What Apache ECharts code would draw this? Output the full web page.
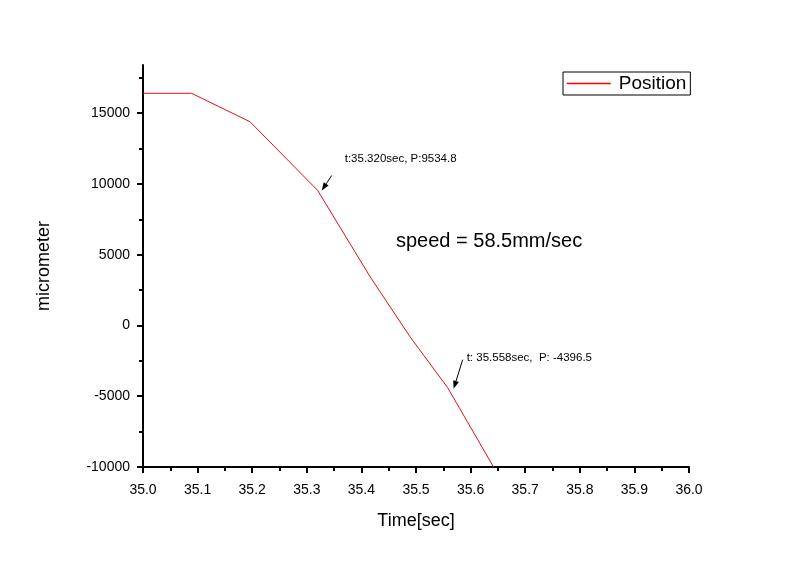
<!DOCTYPE html>
<html>
<head>
<meta charset="utf-8">
<script src="https://cdn.jsdelivr.net/npm/echarts@6/dist/echarts.min.js"></script>
<style>html,body{margin:0;padding:0;background:#fff;}#c{width:800px;height:562px;}</style>
</head>
<body>
<div id="c"></div>
<script>
// ---- data ----
const timeSec = [35.0, 35.089, 35.196, 35.32, 35.416, 35.489, 35.558, 35.642];
const positionUm = [16400, 16400, 14390, 9534.8, 3440, -800, -4396.5, -10000];
const annotTime = [35.320, 35.558];
const annotPos = [9534.8, -4396.5];
const annotText = ['t:35.320sec, P:9534.8', 't: 35.558sec,  P: -4396.5'];
const yMajorTicks = [-10000, -5000, 0, 5000, 10000, 15000];
const yMinorTicks = [-7500, -2500, 2500, 7500, 12500, 17500];
const seriesName = 'Position';
const speedText = 'speed = 58.5mm/sec';

const FONT = '"Liberation Sans", Arial, sans-serif';
const RED = '#e0101a';
const chart = echarts.init(document.getElementById('c'), null, {renderer: 'canvas'});

// per-annotation arrow/text offsets (px)
const annotLayout = [
  {tail: [14, -15], head: [4, 0], text: [27, -32]},
  {tail: [15, -28], head: [6, 1], text: [19, -30]}
];

function arrow(x1, y1, x2, y2) {
  const ang = Math.atan2(y2 - y1, x2 - x1);
  const L = 8, W = 3;
  const bx = x2 - L * Math.cos(ang), by = y2 - L * Math.sin(ang);
  const nx = -Math.sin(ang) * W, ny = Math.cos(ang) * W;
  return [
    {type: 'line', shape: {x1: x1, y1: y1, x2: bx, y2: by}, style: {stroke: '#000', lineWidth: 1}},
    {type: 'polygon', shape: {points: [[x2, y2], [bx + nx, by + ny], [bx - nx, by - ny]]}, style: {fill: '#000'}}
  ];
}

const option = {
  backgroundColor: '#fff',
  animation: false,
  grid: {left: 143, right: 111, top: 65, bottom: 95, containLabel: false},
  legend: {
    show: true,
    data: [seriesName],
    left: 563, top: 72,
    orient: 'horizontal',
    borderColor: '#000', borderWidth: 1, borderRadius: 0,
    padding: [2, 4, 2, 3],
    itemWidth: 44, itemHeight: 14, itemGap: 5,
    itemStyle: {opacity: 0},
    lineStyle: {color: '#ff0000', width: 1.5, opacity: 1},
    textStyle: {fontFamily: FONT, fontSize: 19, color: '#000', padding: [0, 0, 0, 3]},
    backgroundColor: '#fff'
  },
  xAxis: {
    type: 'value',
    min: 35.0, max: 36.0, interval: 0.1,
    name: 'Time[sec]', nameLocation: 'middle', nameGap: 45,
    nameTextStyle: {fontFamily: FONT, fontSize: 18, color: '#000'},
    axisLine: {show: true, onZero: false, lineStyle: {color: '#000', width: 2}},
    axisTick: {show: true, length: 6, lineStyle: {color: '#000', width: 2}},
    minorTick: {show: true, splitNumber: 2, length: 4, lineStyle: {color: '#000', width: 2}},
    splitLine: {show: false},
    minorSplitLine: {show: false},
    axisLabel: {fontFamily: FONT, fontSize: 14, color: '#000', margin: 16,
      formatter: v => v.toFixed(1), showMinLabel: true, showMaxLabel: true}
  },
  yAxis: [{
    type: 'value',
    min: -10000, max: 18400,
    name: 'micrometer', nameLocation: 'middle', nameGap: 90,
    nameTextStyle: {fontFamily: FONT, fontSize: 18, color: '#000'},
    axisLine: {show: true, onZero: false, lineStyle: {color: '#000', width: 2}},
    axisTick: {show: true, length: 6, customValues: yMajorTicks, lineStyle: {color: '#000', width: 2}},
    axisLabel: {fontFamily: FONT, fontSize: 14, color: '#000', margin: 13, customValues: yMajorTicks,
      formatter: v => String(v)},
    splitLine: {show: false}
  }, {
    type: 'value',
    min: -10000, max: 18400,
    position: 'left',
    axisLine: {show: false},
    axisTick: {show: true, length: 4, customValues: yMinorTicks, lineStyle: {color: '#000', width: 2}},
    axisLabel: {show: false},
    splitLine: {show: false}
  }],
  series: [{
    name: seriesName,
    type: 'line',
    data: timeSec.map((t, i) => [t, positionUm[i]]),
    symbol: 'none',
    showSymbol: false,
    lineStyle: {color: RED, width: 1},
    itemStyle: {color: RED},
    clip: true,
    z: 3
  }, {
    name: 'annotations',
    type: 'custom',
    data: annotTime.map((t, i) => [t, annotPos[i], i]),
    clip: false,
    silent: true,
    z: 5,
    renderItem: function (params, api) {
      const p = api.coord([api.value(0), api.value(1)]);
      const idx = api.value(2);
      const lay = annotLayout[idx];
      const children = arrow(p[0] + lay.tail[0], p[1] + lay.tail[1], p[0] + lay.head[0], p[1] + lay.head[1]);
      children.push({
        type: 'text',
        style: {
          text: annotText[idx],
          x: p[0] + lay.text[0], y: p[1] + lay.text[1],
          fill: '#000', font: '11.5px ' + FONT,
          textAlign: 'left', textVerticalAlign: 'middle', verticalAlign: 'middle'
        }
      });
      return {type: 'group', children: children};
    }
  }],
  graphic: [{
    type: 'text',
    left: 396, top: 231,
    style: {text: speedText, fill: '#000', font: '20px ' + FONT}
  }]
};
chart.setOption(option);
</script>
</body>
</html>
